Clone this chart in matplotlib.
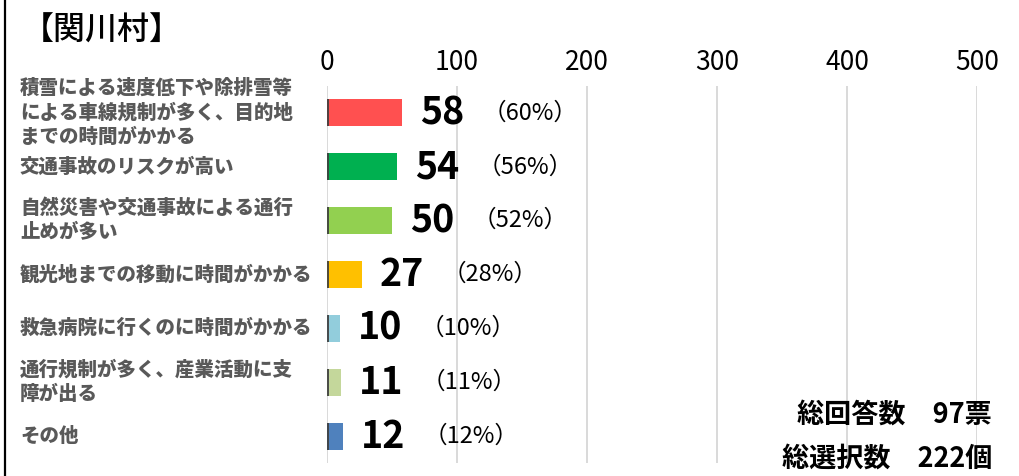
import matplotlib
matplotlib.use("Agg")
import matplotlib.pyplot as plt
from matplotlib.lines import Line2D
import numpy as np

categories = [
    "積雪による速度低下や除排雪等\nによる車線規制が多く、目的地\nまでの時間がかかる",
    "交通事故のリスクが高い",
    "自然災害や交通事故による通行\n止めが多い",
    "観光地までの移動に時間がかかる",
    "救急病院に行くのに時間がかかる",
    "通行規制が多く、産業活動に支\n障が出る",
    "その他",
]
values = [58, 54, 50, 27, 10, 11, 12]
percents = [60, 56, 52, 28, 10, 11, 12]
colors = ["#FF5050", "#00B050", "#92D050", "#FFC000", "#92CDDC", "#C4D79B", "#4F81BD"]
xticks = [0, 100, 200, 300, 400, 500]
title = "【関川村】"
total_line1 = "総回答数　97票"
total_line2 = "総選択数　222個"

NARROW = ["Liberation Sans Narrow", "Noto Sans CJK JP", "DejaVu Sans"]
CJK = ["Noto Sans CJK JP", "DejaVu Sans"]
plt.rcParams["font.family"] = NARROW

W, H = 1019, 476
fig = plt.figure(figsize=(W / 100, H / 100), dpi=100)
fig.patch.set_facecolor("white")

left, right = 327 / W, 977 / W
top, bottom = 1 - 86 / H, 1 - 463 / H
ax = fig.add_axes([left, bottom, right - left, top - bottom])

y = np.arange(len(values))
ax.barh(y, values, height=0.5, color=colors, zorder=3)
ax.vlines([0.6] * len(values), y - 0.25, y + 0.25, color="#404040", lw=1.3, zorder=4)

ax.set_xlim(0, 500)
ax.set_ylim(len(values) - 0.5, -0.5)
ax.set_xticks(xticks)
ax.set_xticklabels([str(t) for t in xticks], fontsize=19, family=NARROW)
ax.xaxis.tick_top()
ax.tick_params(axis="x", length=0, pad=7)
ax.set_yticks([])
for s in ax.spines.values():
    s.set_visible(False)
ax.grid(axis="x", color="#D9D9D9", lw=1.4, zorder=0)
ax.set_axisbelow(True)

for i, (v, p) in enumerate(zip(values, percents)):
    ax.annotate(str(v), xy=(v, i), xytext=(13, 0), textcoords="offset points",
                ha="left", va="center", fontsize=27, fontweight="bold",
                family=NARROW, zorder=5)
    ax.annotate(f"（{p}%）", xy=(v, i), xytext=(58, 0), textcoords="offset points",
                ha="left", va="center", fontsize=17, family=NARROW, zorder=5)

# category labels
for i, c in enumerate(categories):
    yd = ax.transData.transform((0, i))[1]
    fig.text(20 / W, yd / H, c, ha="left", va="center", fontsize=14,
             fontweight="black", color="#595959", family=CJK, linespacing=1.35)

fig.text(22 / W, 1 - 31 / H, title, ha="left", va="center", fontsize=23,
         fontweight="medium", family=CJK, color="black")

fig.text(992 / W, 1 - 415 / H, total_line1, ha="right", va="center", fontsize=19.5,
         fontweight="bold", family=NARROW, color="black")
fig.text(992 / W, 1 - 459 / H, total_line2, ha="right", va="center", fontsize=19.5,
         fontweight="bold", family=NARROW, color="black")

fig.add_artist(Line2D([4.5 / W, 4.5 / W], [0, 1], color="black", lw=1.6))

fig.savefig("out.png", dpi=100, facecolor="white")
